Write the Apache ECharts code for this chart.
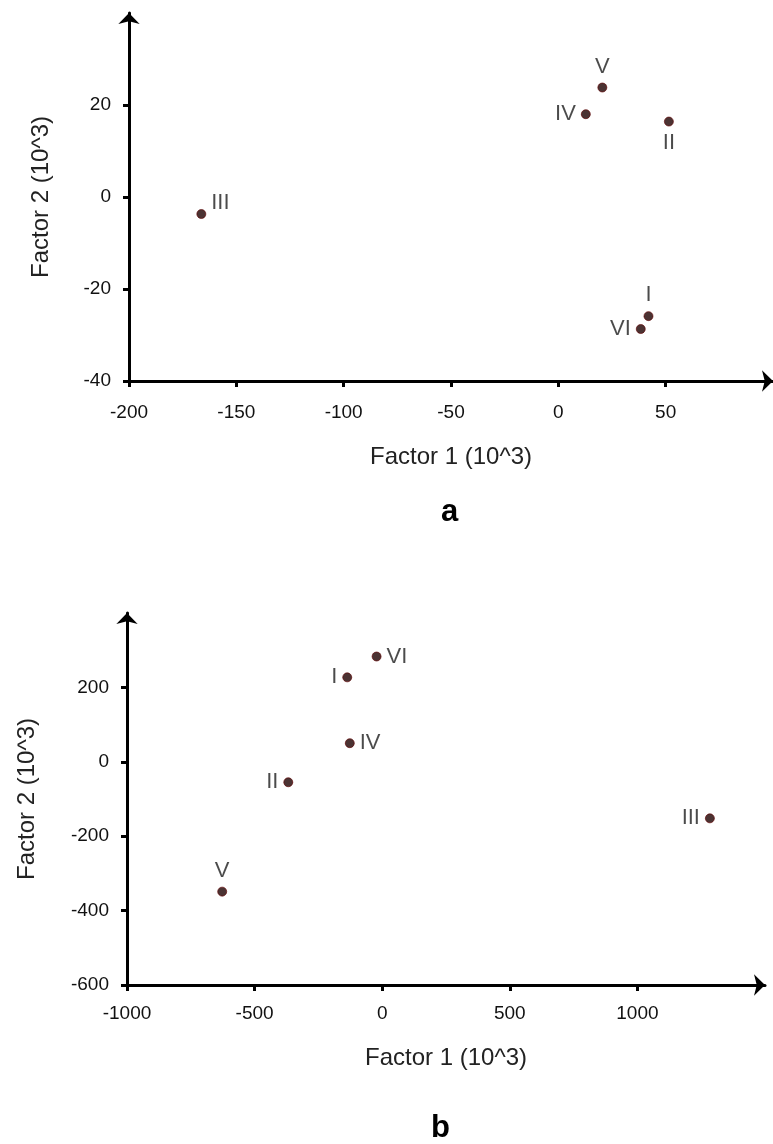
<!DOCTYPE html>
<html>
<head>
<meta charset="utf-8">
<script src="https://cdn.jsdelivr.net/npm/echarts@6/dist/echarts.min.js"></script>
<style>
html,body{margin:0;padding:0;background:#fff;}
#c{width:773px;height:1144px;}
</style>
</head>
<body>
<div id="c"></div>
<script>
// ---- Data ----
const pointNamesA = ['I', 'II', 'III', 'IV', 'V', 'VI'];
const factor1A = [42.0, 51.5, -166.3, 12.8, 20.5, 38.4];
const factor2A = [-25.9, 16.4, -3.7, 18.0, 23.8, -28.7];

const pointNamesB = ['I', 'II', 'III', 'IV', 'V', 'VI'];
const factor1B = [-137, -368, 1284, -127, -627, -22];
const factor2B = [227, -55, -152, 50, -349, 283];

const xAxisA = { min: -200, max: 100, interval: 50 };
const yAxisA = { min: -40, max: 40, interval: 20 };
const xAxisB = { min: -1000, max: 1500, interval: 500 };
const yAxisB = { min: -600, max: 400, interval: 200 };

const xTitle = 'Factor 1 (10^3)';
const yTitle = 'Factor 2 (10^3)';
const panelLetters = ['a', 'b'];

// label placement (style only)
const labelPosA = ['top', 'bottom', 'right', 'left', 'top', 'left'];
const labelPosB = ['left', 'left', 'left', 'right', 'top', 'right'];

// ---- Build ----
const FONT = 'Liberation Sans, Arial, sans-serif';

function pts(names, xs, ys, pos) {
  return names.map((n, i) => {
    const item = { name: n, value: [xs[i], ys[i]], label: { position: pos[i] } };
    if (n === 'III' && pos === labelPosA) item.label.offset = [0, -11];
    return item;
  });
}

function xAx(grid, cfg, margin, gap) {
  return {
    type: 'value', gridIndex: grid, min: cfg.min, max: cfg.max, interval: cfg.interval,
    name: xTitle, nameLocation: 'middle', nameGap: gap,
    nameTextStyle: { fontFamily: FONT, fontSize: 24, color: '#222' },
    axisLine: { onZero: false, lineStyle: { color: '#000', width: 3 },
      symbol: ['none', 'arrow'], symbolSize: [16, 11] },
    axisTick: { show: true, inside: false, length: 6, lineStyle: { color: '#000', width: 3 } },
    axisLabel: { fontFamily: FONT, fontSize: 19, color: '#111', margin: margin, showMaxLabel: false,
      formatter: v => String(v) },
    splitLine: { show: false }
  };
}
function yAx(grid, cfg, gap) {
  return {
    type: 'value', gridIndex: grid, min: cfg.min, max: cfg.max, interval: cfg.interval,
    name: yTitle, nameLocation: 'middle', nameGap: gap, nameRotate: 90,
    nameTextStyle: { fontFamily: FONT, fontSize: 24, color: '#222' },
    axisLine: { onZero: false, lineStyle: { color: '#000', width: 3 },
      symbol: ['none', 'arrow'], symbolSize: [16, 11] },
    axisTick: { show: true, inside: false, length: 6, lineStyle: { color: '#000', width: 3 } },
    axisLabel: { fontFamily: FONT, fontSize: 19, color: '#111', margin: 18, showMaxLabel: false,
      formatter: v => String(v) },
    splitLine: { show: false }
  };
}

const seriesStyle = {
  type: 'scatter', symbol: 'circle', symbolSize: 9,
  itemStyle: { color: '#1e0000', borderColor: '#5e0000', borderWidth: 0.8 },
  label: { show: true, formatter: '{b}', fontFamily: FONT, fontSize: 22, color: '#1e1e1e', distance: 5 },
  emphasis: { disabled: true }
};

const chart = echarts.init(document.getElementById('c'), null, { renderer: 'canvas' });
chart.setOption({
  backgroundColor: '#ffffff',
  animation: false,
  title: [
    { text: panelLetters[0], left: 436, top: 492, textStyle: { fontFamily: FONT, fontSize: 31, fontWeight: 'bold', color: '#000' } },
    { text: panelLetters[1], left: 426, top: 1108, textStyle: { fontFamily: FONT, fontSize: 31, fontWeight: 'bold', color: '#000' } }
  ],
  grid: [
    { left: 129, top: 13, width: 648, height: 368 },
    { left: 127, top: 613, width: 638, height: 372 }
  ],
  xAxis: [xAx(0, xAxisA, 22, 64), xAx(1, xAxisB, 19, 61)],
  yAxis: [yAx(0, yAxisA, 76), yAx(1, yAxisB, 88)],
  series: [
    Object.assign({}, seriesStyle, { xAxisIndex: 0, yAxisIndex: 0, data: pts(pointNamesA, factor1A, factor2A, labelPosA) }),
    Object.assign({}, seriesStyle, { xAxisIndex: 1, yAxisIndex: 1, data: pts(pointNamesB, factor1B, factor2B, labelPosB) })
  ]
});
</script>
</body>
</html>
